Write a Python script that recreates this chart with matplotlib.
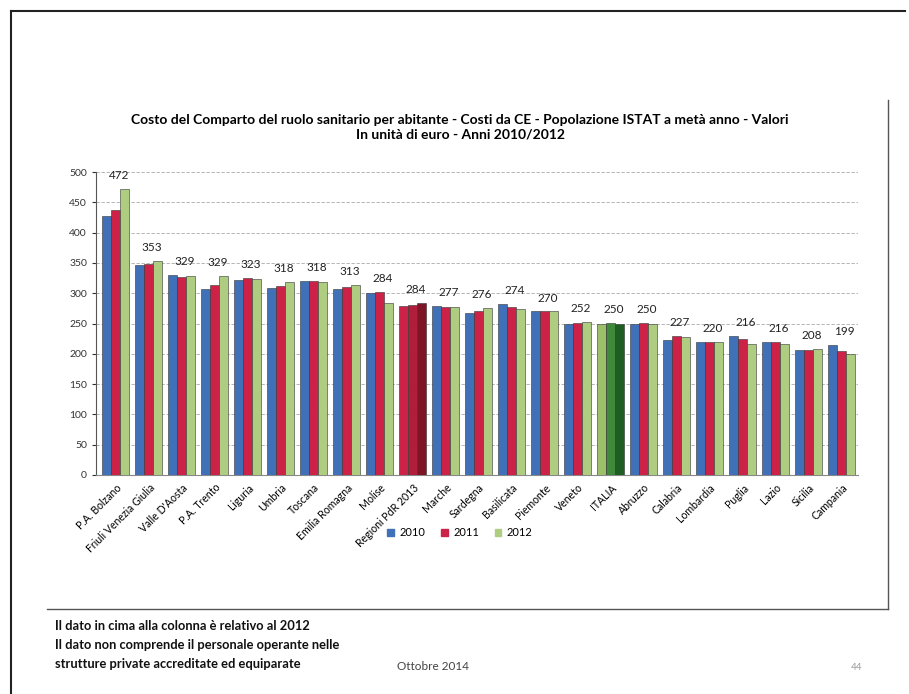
import numpy as np
import matplotlib.pyplot as plt
from matplotlib.lines import Line2D
from matplotlib.patches import Patch

plt.rcParams['font.family'] = ['Lato', 'DejaVu Sans']

regioni = ['P.A. Bolzano', 'Friuli Venezia Giulia', "Valle D'Aosta", 'P.A. Trento',
           'Liguria', 'Umbria', 'Toscana', 'Emilia Romagna', 'Molise',
           'Regioni PdR 2013', 'Marche', 'Sardegna', 'Basilicata', 'Piemonte',
           'Veneto', 'ITALIA', 'Abruzzo', 'Calabria', 'Lombardia', 'Puglia',
           'Lazio', 'Sicilia', 'Campania']
anni = ['2010', '2011', '2012']
v2010 = [427, 346, 330, 307, 322, 309, 320, 307, 300, 279, 279, 267, 282, 270,
         250, 249, 250, 223, 220, 230, 220, 207, 214]
v2011 = [437, 348, 327, 314, 325, 312, 320, 311, 302, 281, 278, 270, 277, 270,
         251, 251, 251, 230, 220, 225, 220, 207, 204]
v2012 = [472, 353, 329, 329, 323, 318, 318, 313, 284, 284, 277, 276, 274, 270,
         252, 250, 250, 227, 220, 216, 216, 208, 199]

colori = ['#4070B8', '#CC2248', '#AECD80']
colori_pdr = ['#CC2248', '#B01E3C', '#7E1526']
colori_ita = ['#9CBF6A', '#3E8A3A', '#1F5E22']

fig = plt.figure(figsize=(9.09, 6.94), dpi=100)
ax = fig.add_axes([96 / 909, 1 - 475 / 694, 762 / 909, 303 / 694])

x = np.arange(len(regioni))
w = 0.27
serie = [v2010, v2011, v2012]
for k in range(3):
    cols = []
    for r in regioni:
        if r == 'Regioni PdR 2013':
            cols.append(colori_pdr[k])
        elif r == 'ITALIA':
            cols.append(colori_ita[k])
        else:
            cols.append(colori[k])
    ax.bar(x + (k - 1) * w, serie[k], w, color=cols, edgecolor='#333333',
           linewidth=0.4, zorder=3)

for i in range(len(regioni)):
    top = max(v2010[i], v2011[i], v2012[i])
    ax.text(x[i] + 0.1, top + 13, str(v2012[i]), ha='center', va='bottom',
            fontsize=8.5, color='#222222')

ax.set_xlim(-0.6, len(regioni) - 0.5)
ax.set_ylim(0, 500)
ax.set_yticks(np.arange(0, 501, 50))
ax.tick_params(axis='y', labelsize=7.5, length=3, colors='#333333')
ax.set_xticks(x)
ax.set_xticklabels(regioni, rotation=45, ha='right', rotation_mode='anchor',
                   fontsize=7.6)
ax.tick_params(axis='x', length=0, pad=5)
ax.grid(axis='y', color='#aaaaaa', linestyle=(0, (4, 2)), linewidth=0.6, zorder=0)
for s in ['top', 'right']:
    ax.spines[s].set_visible(False)
ax.spines['left'].set_color('#555555')
ax.spines['left'].set_linestyle((0, (1, 1)))
ax.spines['bottom'].set_color('#888888')

handles = [Patch(color=c, label=a) for c, a in zip(colori, anni)]
fig.legend(handles=handles, loc='center', bbox_to_anchor=(460 / 909, 1 - 533 / 694),
           ncol=3, frameon=False, fontsize=8, handlelength=0.6, handleheight=0.6,
           columnspacing=1.4, handletextpad=0.5)

fig.text(460 / 909, 1 - 127 / 694,
         'Costo del Comparto del ruolo sanitario per abitante - Costi da CE - '
         'Popolazione ISTAT a metà anno - Valori\nIn unità di euro - Anni 2010/2012',
         ha='center', va='center', fontsize=10, fontweight='bold', linespacing=1.3)

# cornice della slide e del grafico
fig.add_artist(Line2D([11 / 909, 11 / 909], [0, 1 - 11 / 694], color='#222222', lw=1.5))
fig.add_artist(Line2D([11 / 909, 905 / 909], [1 - 11 / 694, 1 - 11 / 694], color='#222222', lw=1.5))
fig.add_artist(Line2D([888 / 909, 888 / 909], [1 - 100 / 694, 1 - 609 / 694], color='#555555', lw=1))
fig.add_artist(Line2D([47 / 909, 888 / 909], [1 - 609 / 694, 1 - 609 / 694], color='#555555', lw=1))

note = ['Il dato in cima alla colonna è relativo al 2012',
        'Il dato non comprende il personale operante nelle',
        'strutture private accreditate ed equiparate']
for j, t in enumerate(note):
    fig.text(55 / 909, 1 - (626 + j * 19) / 694, t, ha='left', va='center',
             fontsize=9.3, fontweight='bold', color='#111111')
fig.text(433 / 909, 1 - 666 / 694, 'Ottobre 2014', ha='center', va='center',
         fontsize=8.5, color='#444444')
fig.text(857 / 909, 1 - 668 / 694, '44', ha='center', va='center',
         fontsize=7, color='#999999')

fig.savefig('out.png', dpi=100)
